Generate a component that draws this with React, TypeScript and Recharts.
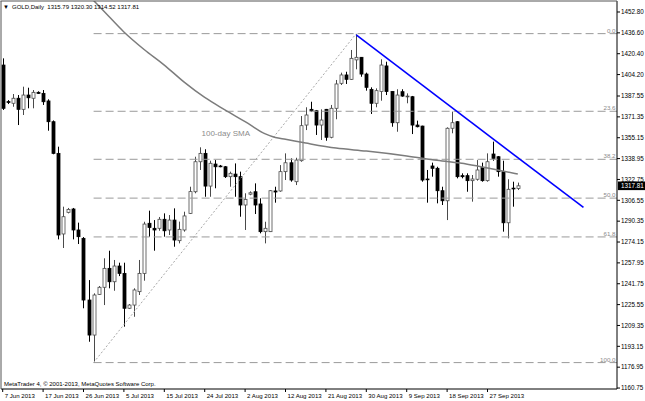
import React from 'react';
import { ComposedChart, Bar, Line, XAxis, YAxis, ReferenceLine, ReferenceDot } from 'recharts';

// ---- Data ----
const opens = [1411.6,1383.2,1381.9,1385.8,1377.2,1388.3,1385.8,1390.4,1389.6,1383.7,1367.6,1343.0,1280.4,1297.2,1299.8,1283.5,1277.0,1229.1,1201.9,1233.5,1239.0,1253.7,1243.3,1255.5,1249.8,1222.7,1225.2,1235.6,1249.8,1288.7,1284.8,1284.8,1291.8,1283.5,1291.2,1275.2,1283.5,1296.4,1313.2,1336.5,1343.0,1317.6,1334.7,1333.2,1332.6,1324.9,1326.9,1324.9,1302.9,1311.3,1313.2,1303.7,1282.2,1282.2,1313.8,1313.8,1328.8,1335.7,1321.0,1337.3,1365.0,1377.2,1376.1,1365.0,1377.2,1355.5,1378.0,1397.4,1403.9,1400.5,1415.6,1417.6,1404.6,1392.7,1381.9,1391.0,1410.9,1391.0,1366.8,1390.9,1386.9,1387.0,1365.0,1364.2,1323.1,1333.2,1331.4,1314.0,1306.2,1362.5,1367.6,1325.7,1325.7,1321.8,1322.9,1332.2,1321.8,1342.5,1340.4,1328.8,1289.1,1316.0,1315.79];
const highs = [1416.8,1384.4,1389.1,1388.3,1394.8,1394.0,1392.2,1391.2,1392.2,1385.0,1368.6,1348.2,1301.6,1300.6,1300.6,1289.2,1278.0,1244.6,1234.3,1240.0,1261.5,1267.4,1260.2,1258.1,1258.1,1226.0,1238.2,1260.2,1289.9,1298.5,1291.2,1293.6,1296.4,1295.1,1300.3,1290.0,1297.7,1317.1,1340.4,1347.7,1346.2,1337.3,1337.8,1334.0,1333.2,1328.8,1335.2,1328.8,1312.0,1313.5,1319.7,1308.1,1289.9,1314.5,1317.1,1333.9,1343.0,1339.1,1339.6,1372.0,1378.8,1383.1,1376.7,1377.2,1377.5,1380.6,1400.0,1405.7,1406.4,1423.3,1435.5,1417.8,1405.7,1394.3,1393.5,1416.1,1414.2,1391.2,1392.8,1392.8,1389.6,1387.6,1368.4,1364.5,1330.1,1335.8,1332.6,1317.1,1363.2,1375.4,1368.1,1327.5,1327.5,1326.2,1337.8,1335.8,1343.0,1352.1,1340.9,1337.3,1322.9,1321.0,1320.30];
const lows = [1376.7,1381.3,1379.2,1365.0,1372.8,1378.0,1378.0,1389.1,1380.6,1360.6,1342.3,1276.2,1269.5,1296.4,1276.2,1272.6,1222.7,1196.7,1180.5,1233.0,1225.2,1238.2,1236.3,1247.7,1208.4,1222.1,1216.1,1233.0,1244.1,1278.3,1267.4,1282.9,1278.3,1279.6,1270.5,1273.1,1282.2,1295.9,1312.0,1330.1,1309.3,1309.3,1315.9,1332.2,1323.9,1317.1,1309.3,1293.8,1283.5,1310.5,1295.9,1280.9,1273.1,1281.9,1304.7,1313.2,1322.3,1321.0,1318.4,1336.5,1361.1,1375.1,1357.3,1353.4,1352.8,1354.7,1369.5,1396.1,1396.9,1400.0,1408.3,1402.5,1391.7,1373.6,1378.8,1383.9,1388.3,1363.7,1359.8,1387.0,1381.9,1358.0,1363.2,1321.0,1304.7,1324.9,1304.2,1302.9,1291.2,1358.6,1323.6,1323.6,1313.2,1305.5,1321.8,1321.0,1321.0,1337.3,1324.9,1282.2,1277.0,1301.6,1314.52];
const closes = [1378.0,1383.0,1385.8,1377.2,1388.3,1386.2,1390.4,1389.6,1383.1,1367.6,1343.0,1279.6,1293.8,1299.5,1283.5,1278.3,1229.1,1201.9,1233.0,1239.0,1253.7,1243.3,1255.5,1249.8,1222.7,1225.2,1236.9,1249.8,1288.1,1285.5,1283.5,1291.8,1282.9,1291.2,1275.7,1284.0,1294.4,1313.3,1336.5,1343.0,1317.6,1335.3,1332.6,1332.6,1324.9,1327.5,1324.9,1302.9,1307.3,1312.4,1302.9,1282.2,1284.8,1314.0,1313.0,1328.8,1335.7,1322.3,1337.8,1364.5,1372.8,1376.1,1365.0,1368.9,1355.5,1378.0,1396.9,1403.9,1400.5,1416.8,1417.6,1404.6,1394.3,1381.9,1391.7,1411.6,1391.0,1366.8,1388.3,1387.5,1387.5,1365.0,1363.7,1322.3,1322.6,1331.4,1314.0,1306.2,1362.5,1366.8,1324.9,1324.9,1321.8,1323.1,1330.1,1321.8,1336.5,1339.1,1328.8,1289.1,1315.1,1315.5,1317.81];

// 100-day SMA, read at selected bars
const smaIdx = [16, 20, 24, 28, 32, 36, 40, 44, 48, 52, 54, 56, 60, 66, 72, 80, 86, 92, 98, 102];
const smaVal = [1469.8, 1453.6, 1437.3, 1423.7, 1411.6, 1398.1, 1386.4, 1376.8, 1367.6, 1358.1, 1355.3, 1353.9, 1351.0, 1347.1, 1344.8, 1341.0, 1337.6, 1334.6, 1330.1, 1327.0];

const xTickIdx = [0, 8, 16, 24, 32, 40, 48, 56, 64, 72, 80, 88, 96];
const xTickLabels = ['7 Jun 2013', '17 Jun 2013', '26 Jun 2013', '5 Jul 2013', '15 Jul 2013', '24 Jul 2013', '2 Aug 2013', '12 Aug 2013', '21 Aug 2013', '30 Aug 2013', '9 Sep 2013', '18 Sep 2013', '27 Sep 2013'];
const yTicks = [1452.80, 1436.60, 1420.40, 1404.20, 1387.55, 1371.35, 1355.15, 1338.95, 1322.75, 1306.55, 1290.35, 1274.15, 1257.95, 1241.75, 1225.55, 1209.35, 1193.15, 1176.95, 1160.75];
const lastPrice = 1317.81;

const fibRatios = [0, 23.6, 38.2, 50, 61.8, 100];
const fibLabels = ['0.0', '23.6', '38.2', '50.0', '61.8', '100.0'];
const fibHigh = 1436.0;
const fibLow = 1180.5;
const fibLowIdx = 18;
const fibHighIdx = 70;

const trendStartIdx = 70;
const trendStartPrice = 1435.0;
const trendEndIdx = 115;
const trendEndPrice = 1301.0;

const symbolTitle = 'GOLD,Daily';
const ohlcTitle = '1315.79 1320.30 1314.52 1317.81';

const X_MIN = -0.337;
const X_MAX = 121.64;
const Y_MIN = 1160.0;
const Y_MAX = 1461.34;

const data = opens.map((o, i) => {
  const k = smaIdx.indexOf(i);
  return { i, o, h: highs[i], l: lows[i], c: closes[i], sma: k >= 0 ? smaVal[k] : null };
});

const FONT = '"Liberation Sans", Arial, sans-serif';

const Candle = (props: any) => {
  const { x, y, width, height, payload } = props;
  if (!payload) return null;
  const { o, h, l, c } = payload;
  const top = Math.min(y, y + height);
  const hh = Math.abs(height);
  const ppu = hh / (h - l || 1);
  const yOf = (p: number) => top + (h - p) * ppu;
  const bTop = yOf(Math.max(o, c));
  const bBot = yOf(Math.min(o, c));
  const up = c >= o;
  const cx = Math.round(x + width / 2) + 0.5;
  const col = up ? '#4a4a4a' : '#000';
  return (
    <g>
      <line x1={cx} x2={cx} y1={top} y2={top + hh} stroke={col} strokeWidth={1} />
      <rect x={cx - 1.5} y={bTop} width={3} height={Math.max(bBot - bTop, 0.8)} fill={up ? '#fff' : '#000'} stroke={col} strokeWidth={0.8} />
    </g>
  );
};

const XTick = (props: any) => {
  const { x, y, payload } = props;
  const k = xTickIdx.indexOf(payload.value);
  return (
    <g>
      <line x1={x} x2={x} y1={y} y2={y + 3} stroke="#000" strokeWidth={1} />
      <text x={x + 2} y={y + 8.6} fontSize={6.1} fontFamily={FONT} fill="#000">{k >= 0 ? xTickLabels[k] : ''}</text>
    </g>
  );
};

const YTick = (props: any) => {
  const { x, y, payload } = props;
  if (payload.value === lastPrice) {
    return (
      <g>
        <rect x={x + 1} y={y - 4.3} width={30} height={8.6} fill="#000" />
        <text x={x + 4} y={y + 2.2} fontSize={6.3} fontFamily={FONT} fill="#fff">{lastPrice.toFixed(2)}</text>
      </g>
    );
  }
  return (
    <g>
      <line x1={x} x2={x + 3} y1={y} y2={y} stroke="#000" strokeWidth={1} />
      <text x={x + 4} y={y + 2.2} fontSize={6.3} fontFamily={FONT} fill="#000">{payload.value.toFixed(2)}</text>
    </g>
  );
};

const FibText = (props: any) => {
  const vb = props.viewBox || {};
  const cx = vb.x !== undefined ? vb.x + (vb.width || 0) / 2 : props.x;
  const cy = vb.y !== undefined ? vb.y + (vb.height || 0) / 2 : props.y;
  return (
    <text x={cx - 1.5} y={cy - 0.8} textAnchor="end" fontSize={6.2} fontFamily={FONT} fill="#8a8a8a">{props.text}</text>
  );
};

export default function App() {
  const fibLevels = fibRatios.map((r) => fibHigh - (r / 100) * (fibHigh - fibLow));
  return (
    <div style={{ position: 'absolute', left: 0, top: 0, width: 645, height: 401, background: '#fff' }}>
      <ComposedChart width={645} height={401} data={data} margin={{ top: 1, right: 0, bottom: 0, left: 1 }}>
        <XAxis
          dataKey="i"
          type="number"
          domain={[X_MIN, X_MAX]}
          allowDataOverflow
          ticks={xTickIdx}
          interval={0}
          height={12}
          tickSize={0}
          tickMargin={0}
          tickLine={false}
          axisLine={{ stroke: '#000', strokeWidth: 1 }}
          tick={<XTick />}
        />
        <YAxis
          orientation="right"
          type="number"
          domain={[Y_MIN, Y_MAX]}
          allowDataOverflow
          ticks={[...yTicks, lastPrice]}
          interval={0}
          width={28}
          tickSize={0}
          tickMargin={0}
          tickLine={false}
          axisLine={{ stroke: '#000', strokeWidth: 1 }}
          tick={<YTick />}
        />
        {fibLevels.map((lv, k) => (
          <ReferenceLine
            key={'fib' + k}
            segment={[{ x: fibLowIdx, y: lv }, { x: X_MAX, y: lv }]}
            stroke="#9a9a9a"
            strokeWidth={1}
            strokeDasharray="8 4"
          />
        ))}
        {fibLevels.map((lv, k) => (
          <ReferenceDot
            key={'fibl' + k}
            x={X_MAX}
            y={lv}
            r={0}
            fill="none"
            stroke="none"
            ifOverflow="visible"
            label={<FibText text={fibLabels[k]} />}
          />
        ))}
        <ReferenceLine
          segment={[{ x: fibLowIdx, y: fibLow }, { x: fibHighIdx, y: fibHigh }]}
          stroke="#a8a8a8"
          strokeWidth={1}
          strokeDasharray="2 2"
        />
        <Line
          dataKey="sma"
          type="monotone"
          connectNulls
          stroke="#7c7c7c"
          strokeWidth={1.5}
          dot={false}
          activeDot={false}
          isAnimationActive={false}
        />
        <Bar
          dataKey={(d: any) => [d.l, d.h]}
          barSize={3}
          shape={<Candle />}
          isAnimationActive={false}
        />
        <ReferenceLine
          segment={[{ x: trendStartIdx, y: trendStartPrice }, { x: trendEndIdx, y: trendEndPrice }]}
          stroke="#0000ff"
          strokeWidth={1.6}
        />
      </ComposedChart>
      <svg width={645} height={401} style={{ position: 'absolute', left: 0, top: 0, pointerEvents: 'none' }}>
        <line x1={0.5} y1={1} x2={617} y2={1} stroke="#555" strokeWidth={1} />
        <line x1={1} y1={1} x2={1} y2={389} stroke="#555" strokeWidth={1} />
        <text x={3} y={9.2} fontSize={6} fontFamily={FONT} fill="#000">▼</text>
        <text x={12} y={9.2} fontSize={6} fontFamily={FONT} fill="#000">{symbolTitle}</text>
        <text x={47.3} y={9.2} fontSize={6} fontFamily={FONT} fill="#000">{ohlcTitle}</text>
        <text x={201.5} y={136} fontSize={8} fontFamily={FONT} fill="#8c8c8c">100-day SMA</text>
        <text x={4} y={385.5} fontSize={6} fontFamily={FONT} fill="#000">MetaTrader 4, © 2001-2013, MetaQuotes Software Corp.</text>
      </svg>
    </div>
  );
}
